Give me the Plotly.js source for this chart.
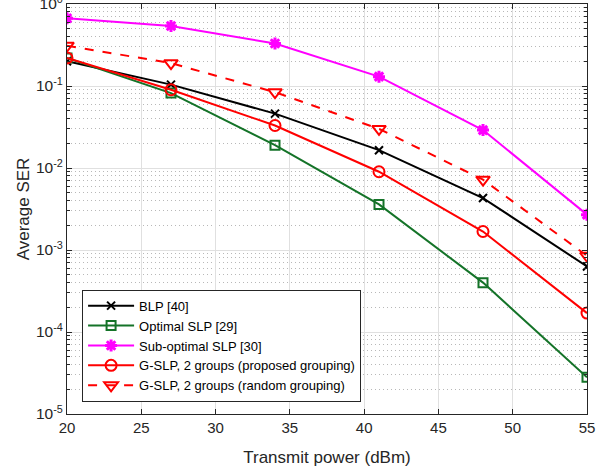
<!DOCTYPE html>
<html>
<head>
<meta charset="utf-8">
<script src="https://cdn.plot.ly/plotly-3.0.1.min.js"></script>
<style>html,body{margin:0;padding:0;background:#fff;}#plot{width:596px;height:472px;}</style>
</head>
<body>
<div id="plot"></div>
<script>
const power = [20, 27, 34, 41, 48, 55];
const blp = [0.20, 0.104, 0.046, 0.0165, 0.0043, 0.00063];
const optimalSLP = [0.22, 0.082, 0.019, 0.0036, 0.00040, 0.000028];
const subOptimalSLP = [0.67, 0.54, 0.33, 0.13, 0.029, 0.0027];
const gslpProposed = [0.22, 0.090, 0.033, 0.0090, 0.00168, 0.000170];
const gslpRandom = [0.31, 0.19, 0.084, 0.030, 0.0072, 0.00085];
const names = ["BLP [40]", "Optimal SLP [29]", "Sub-optimal SLP [30]",
  "G-SLP, 2 groups (proposed grouping)", "G-SLP, 2 groups (random grouping)"];
const yTickVals = [1e-5, 1e-4, 1e-3, 1e-2, 1e-1, 1];
const yTickText = ["10<sup>-5</sup>", "10<sup>-4</sup>", "10<sup>-3</sup>", "10<sup>-2</sup>", "10<sup>-1</sup>", "10<sup>0</sup>"];
const xTickVals = [20, 25, 30, 35, 40, 45, 50, 55];

const green = "rgb(20,115,40)";
const traces = [
  {x: power, y: blp, name: names[0], mode: "lines+markers",
   line: {color: "black", width: 2}, marker: {symbol: "x-thin-open", size: 8, line: {color: "black", width: 2}}},
  {x: power, y: optimalSLP, name: names[1], mode: "lines+markers",
   line: {color: green, width: 2}, marker: {symbol: "square-open", size: 9, color: green, line: {color: green, width: 2}}},
  {x: power, y: subOptimalSLP, name: names[2], mode: "lines+markers",
   line: {color: "#ff00ff", width: 2}, marker: {symbol: "asterisk-open", size: 10, color: "#ff00ff", line: {color: "#ff00ff", width: 3}}},
  {x: power, y: gslpProposed, name: names[3], mode: "lines+markers",
   line: {color: "#ff0000", width: 2}, marker: {symbol: "circle-open", size: 11, color: "#ff0000", line: {color: "#ff0000", width: 2}}},
  {x: power, y: gslpRandom, name: names[4], mode: "lines+markers",
   line: {color: "#ff0000", width: 2, dash: "dash"}, marker: {symbol: "triangle-down-open", size: 12, color: "#ff0000", line: {color: "#ff0000", width: 2}}}
];

const layout = {
  width: 596, height: 472,
  margin: {l: 67, r: 9, t: 4, b: 58},
  paper_bgcolor: "white", plot_bgcolor: "white",
  font: {family: "Liberation Sans, Arial, sans-serif", size: 15, color: "#262626"},
  showlegend: true,
  legend: {x: 0.029, y: 0.03, xanchor: "left", yanchor: "bottom",
    bgcolor: "white", bordercolor: "#262626", borderwidth: 1,
    font: {size: 13, color: "#000"}, tracegroupgap: 0, itemwidth: 46},
  xaxis: {
    range: [20, 55], tickvals: xTickVals, ticks: "inside", ticklen: 5, tickcolor: "#262626",
    showline: true, linecolor: "#262626", linewidth: 1, mirror: "ticks",
    showgrid: true, gridcolor: "#e0e0e0", gridwidth: 1, zeroline: false,
    title: {text: "Transmit power (dBm)", font: {size: 17}, standoff: 16},
    tickfont: {size: 15}, ticklabeloverflow: "allow"
  },
  yaxis: {
    type: "log", range: [-5, 0], tickvals: yTickVals, ticktext: yTickText,
    ticks: "inside", ticklen: 5, tickcolor: "#262626",
    showline: true, linecolor: "#262626", linewidth: 1, mirror: "ticks",
    showgrid: true, gridcolor: "#e0e0e0", gridwidth: 1, zeroline: false,
    minor: {dtick: "D1", showgrid: true, gridcolor: "#b8b8b8", griddash: "1px,3px", ticks: "inside", ticklen: 3, tickcolor: "#262626"},
    title: {text: "Average SER", font: {size: 17}, standoff: 2},
    tickfont: {size: 15.5}, ticklabeloverflow: "allow"
  }
};
Plotly.newPlot("plot", traces, layout, {displayModeBar: false});
</script>
</body>
</html>
